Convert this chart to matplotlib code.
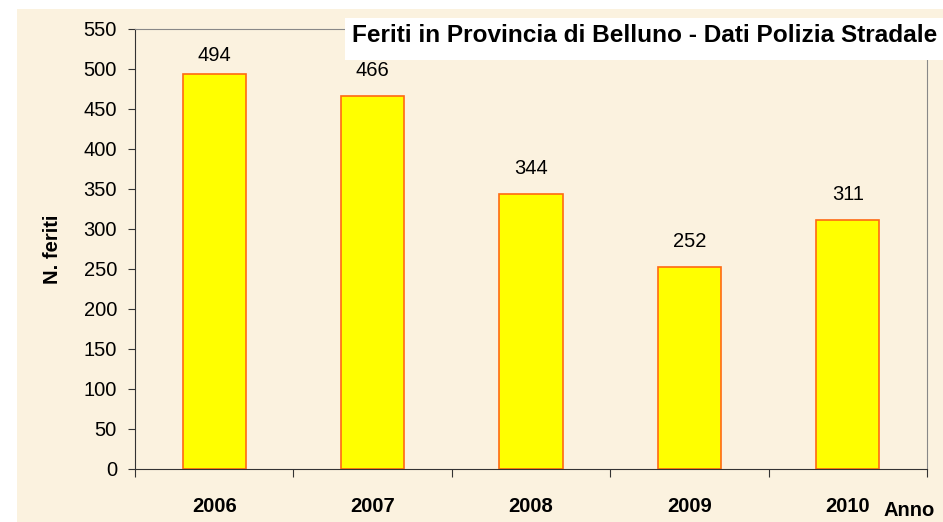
import matplotlib.pyplot as plt
from matplotlib.patches import Rectangle

plt.rcParams['font.family'] = ['Liberation Sans', 'DejaVu Sans']

anni = ['2006', '2007', '2008', '2009', '2010']
feriti = [494, 466, 344, 252, 311]
yticks = list(range(0, 551, 50))

fig = plt.figure(figsize=(9.43, 5.22), dpi=100)
fig.patch.set_facecolor('white')
# cream background panel
fig.patches.append(Rectangle((17/943, 0), 1 - 17/943, 1 - 9/522, transform=fig.transFigure,
                             facecolor='#FBF2DF', edgecolor='none', zorder=-5))

ax = fig.add_axes([135/943, 1 - 469/522, (927 - 135)/943, (469 - 29)/522])
ax.set_facecolor('none')

x = list(range(len(anni)))
bars = ax.bar(x, feriti, width=0.40, color='#FFFF00', edgecolor='#FF6A13', linewidth=1.2)
for xi, v in zip(x, feriti):
    ax.text(xi, min(v + 20, 505), str(v), ha='center', va='bottom', fontsize=14.5)

ax.set_xlim(-0.5, 4.5)
ax.set_ylim(0, 550)
ax.set_yticks(yticks)
ax.set_yticklabels([str(t) for t in yticks], fontsize=14.5)
ax.set_xticks([i + 0.5 for i in range(-1, 5)], minor=False)
ax.set_xticklabels([])
ax.tick_params(axis='x', length=6, direction='out', color='#333333')
ax.tick_params(axis='y', length=5, direction='out', color='#333333', pad=8)
for xi, a in zip(x, anni):
    ax.text(xi, -0.085, a, transform=ax.get_xaxis_transform(), ha='center', va='center',
            fontsize=14.5, fontweight='bold')

for s in ['left', 'bottom']:
    ax.spines[s].set_color('#333333')
for s in ['top', 'right']:
    ax.spines[s].set_color('#888888')

fig.text(52/943, 1 - 249/522, 'N. feriti', rotation=90, ha='center', va='center',
         fontsize=14.5, fontweight='bold')
fig.text(909/943, 1 - 510/522, 'Anno', ha='center', va='center', fontsize=14.5, fontweight='bold')

fig.patches.append(Rectangle((345/943, 1 - 60/522), 1 - 345/943, 42/522, transform=fig.transFigure,
                             facecolor='white', edgecolor='none', zorder=5))
fig.text(352/943, 1 - 36/522, 'Feriti in Provincia di Belluno - Dati Polizia Stradale',
         ha='left', va='center', fontsize=17.6, fontweight='bold', zorder=6)

fig.savefig('out.png', dpi=100)
